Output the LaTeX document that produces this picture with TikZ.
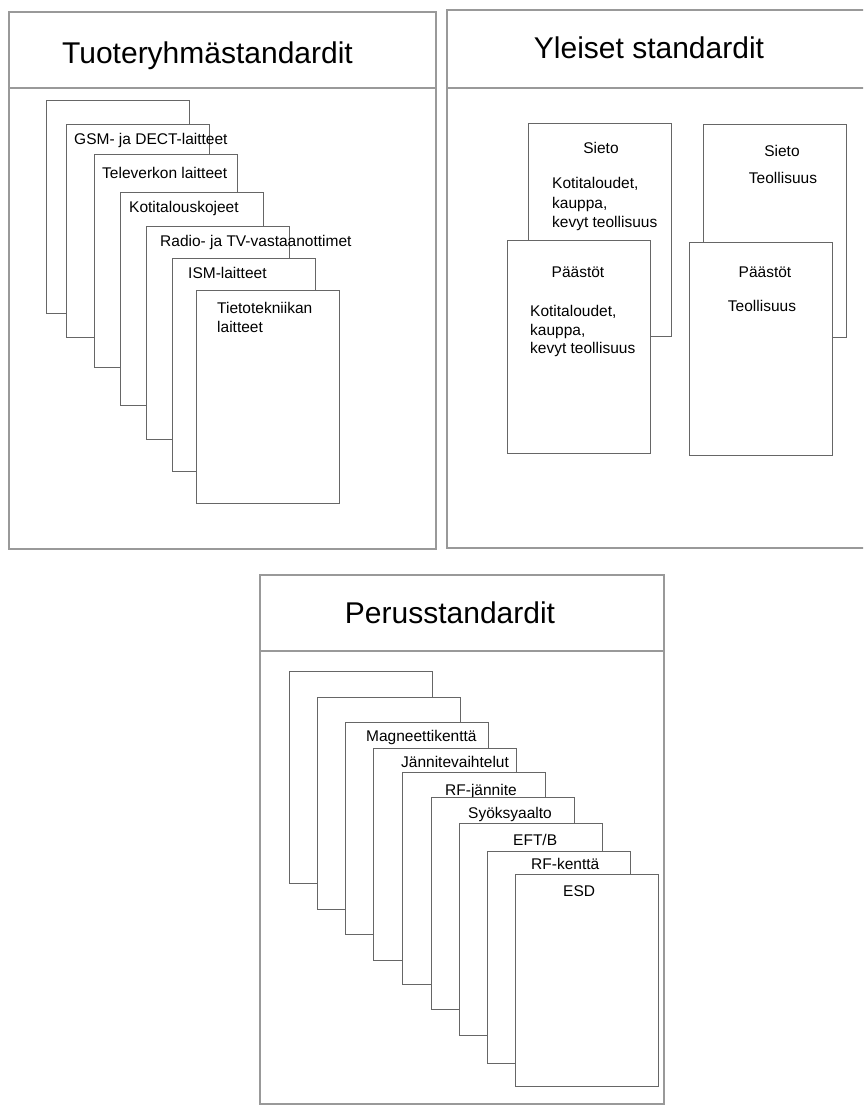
\documentclass[tikz,border=0pt]{standalone}
\usepackage{fontspec}
\setmainfont{Liberation Sans}
\begin{document}
\begin{tikzpicture}[x=1pt,y=-1pt,
  panel/.style={draw=black!40, line width=1.1pt, fill=white, inner sep=0pt, outer sep=0pt, anchor=north west},
  divider/.style={draw=black!40, line width=1.1pt},
  card/.style={draw=black!60, line width=0.8pt, fill=white, inner sep=0pt, outer sep=0pt,
    anchor=north west, minimum width=143pt, minimum height=213pt},
  title/.style={font=\fontsize{30}{36}\selectfont, text=black, inner sep=0pt, anchor=base},
  lbl/.style={font=\fontsize{15.5}{19}\selectfont, text=black, inner sep=0pt, anchor=base west},
  clbl/.style={lbl, anchor=base}]
\useasboundingbox (0,0) rectangle (863,1106);
\clip (0,0) rectangle (863,1106);

% ---------- Tuoteryhmästandardit ----------
\node[panel, minimum width=427pt, minimum height=537pt] (pA) at (9,12) {};
\draw[divider] (9,88) -- (436,88);
\node[title] (tA) at (207.5,63) {Tuoteryhmästandardit};

\node[card] (a1) at (46,100) {};
\node[card] (a2) at (66,124) {};
\node[lbl] (la2) at (74,144) {GSM- ja DECT-laitteet};
\node[card] (a3) at (94,154) {};
\node[lbl] (la3) at (102,178) {Televerkon laitteet};
\node[card] (a4) at (120,192) {};
\node[lbl] (la4) at (129,212) {Kotitalouskojeet};
\node[card] (a5) at (146,226) {};
\node[lbl] (la5) at (160,246) {Radio- ja TV-vastaanottimet};
\node[card] (a6) at (172,258) {};
\node[lbl] (la6) at (188,278) {ISM-laitteet};
\node[card] (a7) at (196,290) {};
\node[lbl] (la7a) at (217,313) {Tietotekniikan};
\node[lbl] (la7b) at (217,332) {laitteet};

% ---------- Yleiset standardit ----------
\node[panel, minimum width=433pt, minimum height=538pt] (pB) at (447,10) {};
\draw[divider] (447,88) -- (880,88);
\node[title] (tB) at (649,58) {Yleiset standardit};

\node[card] (b1) at (528,123) {};
\node[clbl] (lb1) at (601,153) {Sieto};
\node[lbl] (lb1a) at (552,188) {Kotitaloudet,};
\node[lbl] (lb1b) at (552,208) {kauppa,};
\node[lbl] (lb1c) at (552,227) {kevyt teollisuus};

\node[card] (b2) at (703,124) {};
\node[clbl] (lb2) at (782,156) {Sieto};
\node[clbl] (lb2a) at (783,183) {Teollisuus};

\node[card] (b3) at (507,240) {};
\node[clbl] (lb3) at (578,277) {Päästöt};
\node[lbl] (lb3a) at (530,316) {Kotitaloudet,};
\node[lbl] (lb3b) at (530,335) {kauppa,};
\node[lbl] (lb3c) at (530,353) {kevyt teollisuus};

\node[card] (b4) at (689,242) {};
\node[clbl] (lb4) at (765,277) {Päästöt};
\node[clbl] (lb4a) at (762,311) {Teollisuus};

% ---------- Perusstandardit ----------
\node[panel, minimum width=404pt, minimum height=529pt] (pC) at (260,575) {};
\draw[divider] (260,651) -- (664,651);
\node[title] (tC) at (450,623) {Perusstandardit};

\node[card, minimum height=212pt] (c1) at (289,671) {};
\node[card, minimum height=212pt] (c2) at (317,697) {};
\node[card, minimum height=212pt] (c3) at (345,722) {};
\node[lbl] (lc3) at (366,741) {Magneettikenttä};
\node[card, minimum height=212pt] (c4) at (373,748) {};
\node[lbl] (lc4) at (401,767) {Jännitevaihtelut};
\node[card, minimum height=212pt] (c5) at (402,772) {};
\node[lbl] (lc5) at (445,795) {RF-jännite};
\node[card, minimum height=212pt] (c6) at (431,797) {};
\node[lbl] (lc6) at (468,818) {Syöksyaalto};
\node[card, minimum height=212pt] (c7) at (459,823) {};
\node[lbl] (lc7) at (513,845) {EFT/B};
\node[card, minimum height=212pt] (c8) at (487,851) {};
\node[lbl] (lc8) at (531,869) {RF-kenttä};
\node[card, minimum height=212pt] (c9) at (515,874) {};
\node[lbl] (lc9) at (563,896) {ESD};
\end{tikzpicture}
\end{document}
